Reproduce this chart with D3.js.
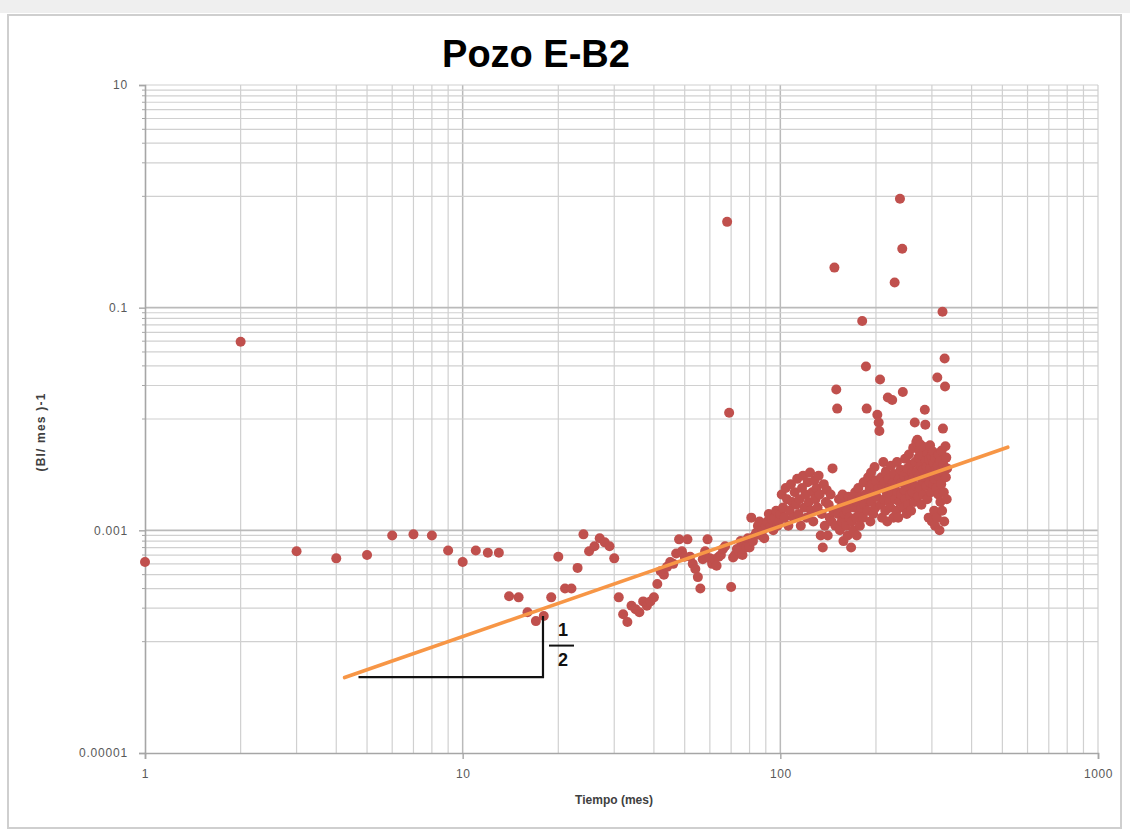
<!DOCTYPE html>
<html>
<head>
<meta charset="utf-8">
<script src="https://cdn.jsdelivr.net/npm/d3@7"></script>
<style>
  html, body { margin: 0; padding: 0; background: #ffffff; }
  svg { display: block; }
</style>
</head>
<body>
<svg id="chart" width="1130" height="834"></svg>
<script>
// ---- Data -------------------------------------------------------------
const chartTitle = "Pozo E-B2";
const xAxisTitle = "Tiempo (mes)";
const yAxisTitle = "(Bl/ mes )-1";

// x axis: time in months (log scale), labelled decades
const xTickValues = [1, 10, 100, 1000];
const xTickLabels = ["1", "10", "100", "1000"];
// y axis: labelled every two decades
const yTickValues = [0.00001, 0.001, 0.1, 10];
const yTickLabels = ["0.00001", "0.001", "0.1", "10"];

// Monthly values, month 1 .. 335
const rateValues = [
  0.00052, 0.0495, 0.00065, 0.00056, 0.0006, 0.0009, 0.00092, 0.0009, 0.00066, 0.00052,
  0.00066, 0.00063, 0.00063, 0.000256, 0.00025, 0.000184, 0.000153, 0.00017, 0.00025, 0.00058,
  0.0003, 0.0003, 0.00046, 0.00092, 0.00065, 0.00072, 0.00085, 0.00078, 0.00072, 0.00056,
  0.00025, 0.000176, 0.00015, 0.00021, 0.000196, 0.000184, 0.00023, 0.00021, 0.00023, 0.00025,
  0.00033, 0.00043, 0.0004, 0.00047, 0.00052, 0.0005, 0.00062, 0.00083, 0.00065, 0.00058,
  0.00083, 0.00058, 0.0005, 0.00045, 0.00038, 0.0003, 0.00055, 0.00065, 0.00083, 0.00056,
  0.0005, 0.00055, 0.00048, 0.00058, 0.0006, 0.00068, 0.00072, 0.59, 0.0114, 0.00031,
  0.00057, 0.0006, 0.00068, 0.00065, 0.0008, 0.0006, 0.00075, 0.0007, 0.00085, 0.0007,
  0.0013, 0.0008, 0.0009, 0.00095, 0.0011, 0.0012, 0.0009, 0.001, 0.00085, 0.0011,
  0.0012, 0.0014, 0.0011, 0.00125, 0.001, 0.0013, 0.0015, 0.0011, 0.0012, 0.0014,
  0.0021, 0.0016, 0.0013, 0.0024, 0.0019, 0.0011, 0.0015, 0.0026, 0.0018, 0.0013,
  0.0022, 0.0017, 0.0029, 0.0014, 0.0019, 0.0011, 0.0024, 0.0031, 0.0016, 0.0021,
  0.0013, 0.0027, 0.0018, 0.0033, 0.0015, 0.0022, 0.0012, 0.0028, 0.0019, 0.0024,
  0.0016, 0.0031, 0.0021, 0.0009, 0.0014, 0.0007, 0.0026, 0.0011, 0.0018, 0.0023,
  0.0009, 0.0017, 0.0013, 0.0021, 0.0012, 0.0036, 0.0015, 0.229, 0.0011, 0.0184,
  0.0124, 0.0014, 0.0019, 0.0010, 0.0016, 0.0012, 0.0021, 0.0008, 0.0014, 0.0018,
  0.0011, 0.0015, 0.0009, 0.0020, 0.0013, 0.0017, 0.0007, 0.0012, 0.0019, 0.0010,
  0.0016, 0.0022, 0.0013, 0.0009, 0.0018, 0.0024, 0.0014, 0.0011, 0.0020, 0.0016,
  0.076, 0.0013, 0.0027, 0.0017, 0.0021, 0.0296, 0.0124, 0.0015, 0.0030, 0.0019,
  0.0024, 0.0012, 0.0033, 0.0018, 0.0026, 0.0014, 0.0022, 0.0037, 0.0016, 0.0028,
  0.0020, 0.0109, 0.0024, 0.0093, 0.0078, 0.0226, 0.0017, 0.0030, 0.0013, 0.0025,
  0.0041, 0.0019, 0.0027, 0.0015, 0.0034, 0.0022, 0.0012, 0.0156, 0.0029, 0.0018,
  0.0024, 0.0016, 0.0038, 0.0021, 0.0148, 0.0027, 0.0013, 0.0032, 0.168, 0.0019,
  0.0026, 0.0015, 0.0041, 0.0022, 0.0013, 0.0029, 0.0018, 0.95, 0.0035, 0.0021,
  0.0027, 0.338, 0.0175, 0.0016, 0.0031, 0.0023, 0.0044, 0.0019, 0.0028, 0.0014,
  0.0036, 0.0024, 0.0017, 0.0048, 0.0029, 0.0021, 0.0039, 0.0015, 0.0026, 0.0033,
  0.0022, 0.0055, 0.0030, 0.0018, 0.0093, 0.0041, 0.0025, 0.0062, 0.0034, 0.0065,
  0.0020, 0.0045, 0.0031, 0.0052, 0.0024, 0.0059, 0.0038, 0.0017, 0.0047, 0.0028,
  0.0035, 0.0021, 0.0056, 0.0030, 0.0121, 0.0089, 0.0042, 0.0025, 0.0037, 0.0019,
  0.0049, 0.0031, 0.0013, 0.0043, 0.0027, 0.0058, 0.0036, 0.0022, 0.0046, 0.0012,
  0.0033, 0.0051, 0.0026, 0.0040, 0.0015, 0.0029, 0.0011, 0.0044, 0.0035, 0.0024,
  0.0013, 0.0236, 0.0038, 0.0021, 0.0048, 0.0030, 0.0010, 0.0042, 0.0018, 0.0034,
  0.0026, 0.0052, 0.0015, 0.092, 0.0082, 0.0039, 0.0022, 0.0012, 0.035, 0.0196,
  0.0057, 0.0030, 0.0045, 0.0019, 0.0036
];
const monthValues = d3.range(1, rateValues.length + 1);

// Power-law trend line  y = coef * x^exp, drawn over this time span
const trendCoef = 1.135e-5;
const trendExp = 0.991;
const trendSpan = [4.25, 520];

// Slope guide (right triangle) and its "1 / 2" annotation
const guideX = [4.7, 17.9];
const guideY = [4.8e-5, 1.7e-4];
const guideLabels = ["1", "2"];

// ---- Layout -----------------------------------------------------------
const svg = d3.select("#chart");
const W = 1130, H = 834;
const plot = { left: 145, right: 1098, top: 85, bottom: 753 };

const x = d3.scaleLog().domain([1, 1000]).range([plot.left, plot.right]);
const y = d3.scaleLog().domain([1e-5, 10]).range([plot.bottom, plot.top]);

const FONT = "'Liberation Sans', Arial, sans-serif";

// Chart frame
svg.append("rect").attr("x", 0).attr("y", 0).attr("width", W).attr("height", H).attr("fill", "#ffffff");
svg.append("rect").attr("x", 0).attr("y", 0).attr("width", W).attr("height", 13).attr("fill", "#efefef");
svg.append("rect")
  .attr("x", 8).attr("y", 15).attr("width", 1113).attr("height", 813)
  .attr("fill", "#ffffff").attr("stroke", "#cfcfcf").attr("stroke-width", 2);

// ---- Grid -------------------------------------------------------------
// vertical: decades + 2..9 subdivisions
const xMinor = [];
[1, 10, 100].forEach(d => { for (let k = 2; k <= 9; k++) xMinor.push(d * k); });
const xMajor = [10, 100];

// horizontal: within each two-decade band [a, 100a], lines at 10a*k
const yMinor = [];
[1e-5, 1e-3, 1e-1].forEach(a => { for (let k = 1; k <= 9; k++) yMinor.push(10 * a * k); });
const yMajor = [0.001, 0.1];

const grid = svg.append("g");
grid.selectAll("line.xm").data(xMinor).enter().append("line")
  .attr("x1", d => x(d)).attr("x2", d => x(d))
  .attr("y1", plot.top).attr("y2", plot.bottom)
  .attr("stroke", "#d0d0d0").attr("stroke-width", 1.2);
grid.selectAll("line.xM").data(xMajor).enter().append("line")
  .attr("x1", d => x(d)).attr("x2", d => x(d))
  .attr("y1", plot.top).attr("y2", plot.bottom)
  .attr("stroke", "#bababa").attr("stroke-width", 1.5);
grid.selectAll("line.ym").data(yMinor).enter().append("line")
  .attr("x1", plot.left).attr("x2", plot.right)
  .attr("y1", d => y(d)).attr("y2", d => y(d))
  .attr("stroke", "#d0d0d0").attr("stroke-width", 1.2);
grid.selectAll("line.yM").data(yMajor).enter().append("line")
  .attr("x1", plot.left).attr("x2", plot.right)
  .attr("y1", d => y(d)).attr("y2", d => y(d))
  .attr("stroke", "#bababa").attr("stroke-width", 1.6);
// top and right edges
grid.append("line").attr("x1", plot.left).attr("x2", plot.right).attr("y1", plot.top).attr("y2", plot.top)
  .attr("stroke", "#cfcfcf").attr("stroke-width", 1.2);
grid.append("line").attr("x1", plot.right).attr("x2", plot.right).attr("y1", plot.top).attr("y2", plot.bottom)
  .attr("stroke", "#cfcfcf").attr("stroke-width", 1.2);

// ---- Axes -------------------------------------------------------------
const axisColor = "#a6a6a6";
const labelColor = "#595959";

const xAxis = d3.axisBottom(x)
  .tickValues(xTickValues)
  .tickFormat((d, i) => xTickLabels[i])
  .tickSize(6).tickPadding(10);
const gx = svg.append("g").attr("transform", `translate(0,${plot.bottom})`).call(xAxis);
gx.select(".domain").attr("stroke", axisColor).attr("stroke-width", 1.6);
gx.selectAll(".tick line").attr("stroke", axisColor).attr("stroke-width", 1.4);
gx.selectAll(".tick text").attr("fill", labelColor).attr("font-family", FONT)
  .attr("font-size", 12).attr("letter-spacing", 0.6);

const yAxis = d3.axisLeft(y)
  .tickValues(yTickValues)
  .tickFormat((d, i) => yTickLabels[i])
  .tickSize(6).tickPadding(11);
const gy = svg.append("g").attr("transform", `translate(${plot.left},0)`).call(yAxis);
gy.select(".domain").attr("stroke", axisColor).attr("stroke-width", 1.6);
gy.selectAll(".tick line").attr("stroke", axisColor).attr("stroke-width", 1.4);
gy.selectAll(".tick text").attr("fill", labelColor).attr("font-family", FONT)
  .attr("font-size", 12).attr("letter-spacing", 0.8);

// small minor tick marks along the y axis
svg.append("g").selectAll("line").data(yMinor.filter(v => !yTickValues.includes(v))).enter().append("line")
  .attr("x1", plot.left - 3).attr("x2", plot.left)
  .attr("y1", d => y(d)).attr("y2", d => y(d))
  .attr("stroke", axisColor).attr("stroke-width", 1);

// ---- Titles -----------------------------------------------------------
svg.append("text")
  .attr("x", 536).attr("y", 67)
  .attr("text-anchor", "middle")
  .attr("font-family", FONT).attr("font-weight", "bold").attr("font-size", 38)
  .attr("fill", "#000").text(chartTitle);

svg.append("text")
  .attr("x", 614).attr("y", 804)
  .attr("text-anchor", "middle")
  .attr("font-family", FONT).attr("font-weight", "bold").attr("font-size", 12)
  .attr("fill", "#404040").text(xAxisTitle);

svg.append("text")
  .attr("transform", "translate(45,432) rotate(-90)")
  .attr("text-anchor", "middle")
  .attr("font-family", FONT).attr("font-weight", "bold").attr("font-size", 12)
  .attr("letter-spacing", 1.2)
  .attr("fill", "#404040").text(yAxisTitle);

// ---- Points -----------------------------------------------------------
const points = monthValues.map((m, i) => ({ m, v: rateValues[i] }));
svg.append("g").selectAll("circle").data(points).enter().append("circle")
  .attr("cx", d => x(d.m)).attr("cy", d => y(d.v))
  .attr("r", 5)
  .attr("fill", "#c0504d");

// ---- Trend line -------------------------------------------------------
const trendPts = trendSpan.map(t => [t, trendCoef * Math.pow(t, trendExp)]);
svg.append("path")
  .datum(trendPts)
  .attr("d", d3.line().x(d => x(d[0])).y(d => y(d[1])))
  .attr("fill", "none").attr("stroke", "#f79646").attr("stroke-width", 3.6)
  .attr("stroke-linecap", "round");

// ---- Slope guide ------------------------------------------------------
svg.append("path")
  .attr("d", d3.line()([
    [x(guideX[0]), y(guideY[0])],
    [x(guideX[1]), y(guideY[0])],
    [x(guideX[1]), y(guideY[1])]
  ]))
  .attr("fill", "none").attr("stroke", "#111").attr("stroke-width", 2.2);

const fx = x(guideX[1]) + 20;
const fy = (y(guideY[0]) + y(guideY[1])) / 2 - 1;
svg.append("text").attr("x", fx).attr("y", fy - 10)
  .attr("text-anchor", "middle").attr("font-family", FONT).attr("font-weight", "bold")
  .attr("font-size", 18).attr("fill", "#111").text(guideLabels[0]);
svg.append("line")
  .attr("x1", fx - 14).attr("x2", fx + 11).attr("y1", fy).attr("y2", fy)
  .attr("stroke", "#111").attr("stroke-width", 2);
svg.append("text").attr("x", fx).attr("y", fy + 20)
  .attr("text-anchor", "middle").attr("font-family", FONT).attr("font-weight", "bold")
  .attr("font-size", 18).attr("fill", "#111").text(guideLabels[1]);
</script>
</body>
</html>
